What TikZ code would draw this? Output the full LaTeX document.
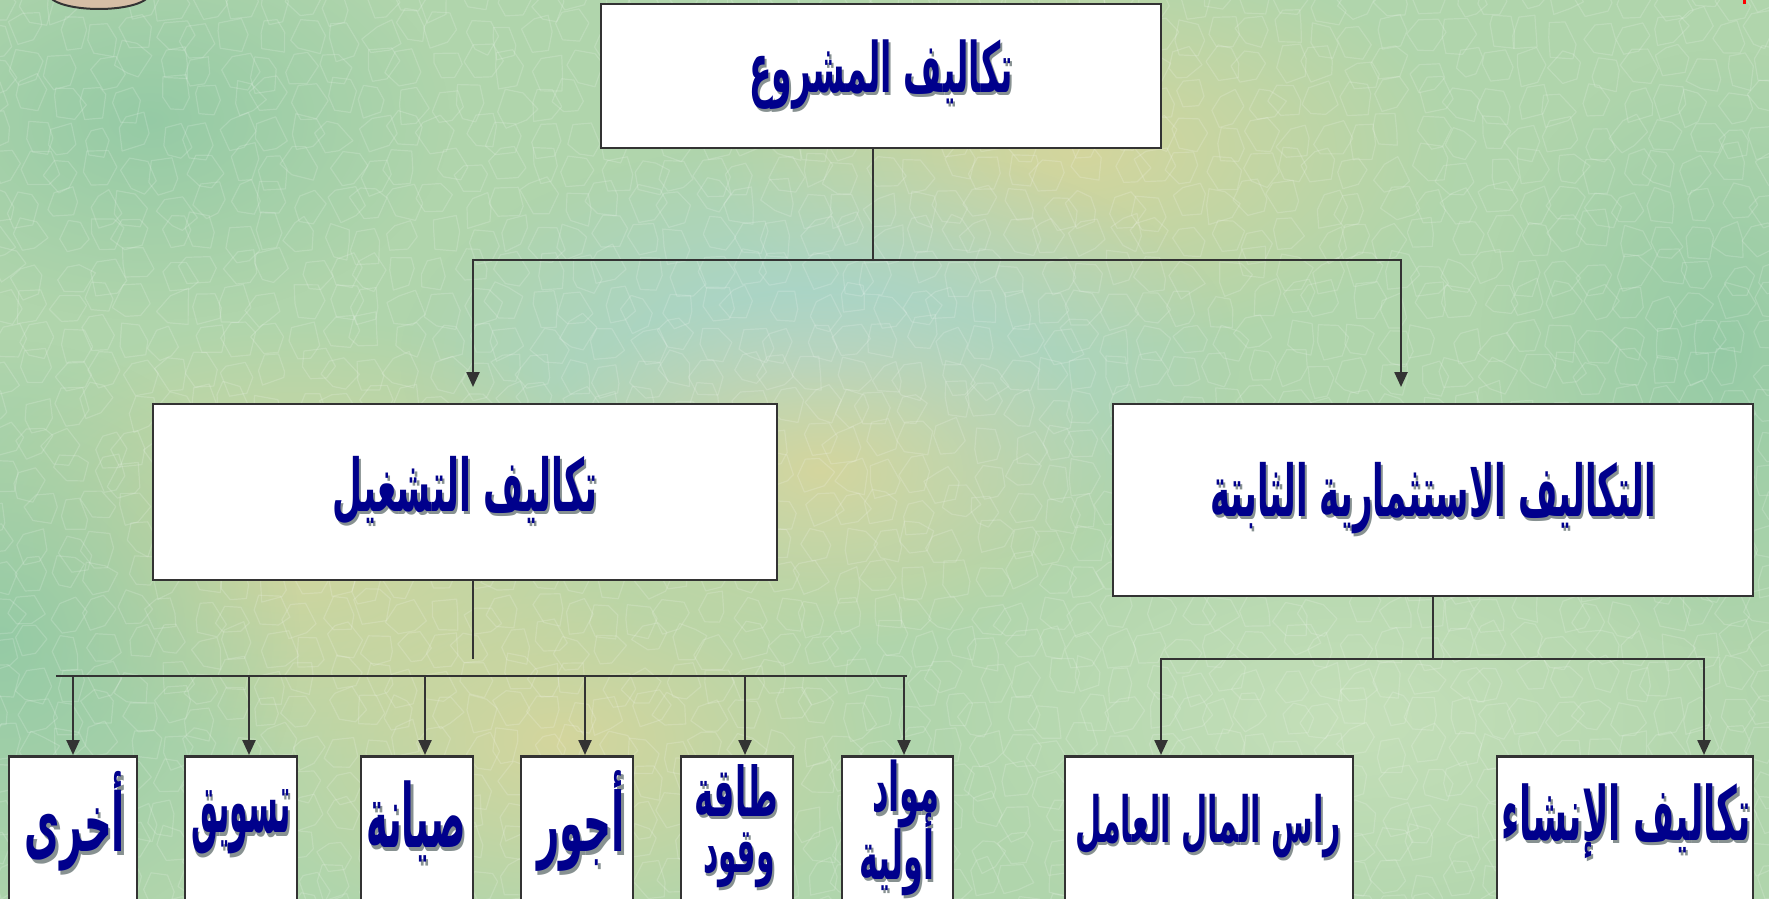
\documentclass[tikz,border=0pt]{standalone}
\usepackage{fontspec}
\usepackage{graphicx}
\usetikzlibrary{arrows.meta,fadings}
\TeXXeTstate=1
\newfontfamily\arabicfont[Script=Arabic]{DejaVu Sans}
\definecolor{navy}{RGB}{0,0,140}
\definecolor{shadowc}{RGB}{135,145,145}
\definecolor{linec}{RGB}{51,51,51}
\definecolor{bgbase}{RGB}{176,213,172}
\definecolor{bgyel}{RGB}{214,214,156}
\definecolor{bgblue}{RGB}{168,212,212}
\definecolor{bggreen}{RGB}{148,202,165}
\definecolor{bglight}{RGB}{198,224,186}
\definecolor{tanc}{RGB}{214,190,166}
\tikzfading[name=blobfade, inner color=transparent!0, outer color=transparent!100]
\newcommand\artxt[1]{{\arabicfont\bfseries\fontsize{40pt}{48pt}\selectfont\beginR #1\endR}}
\newcommand\shtxt[1]{\rlap{\kern2.5pt\raisebox{-1.8pt}{\color{shadowc}\artxt{#1}}}\artxt{#1}}
\newcommand\fitw[3][2.1]{\scalebox{1}[#1]{\resizebox{#2pt}{!}{\shtxt{#3}}}}
\begin{document}
\begin{tikzpicture}[x=1pt,y=-1pt,
  box/.style={draw=linec, line width=2.6pt, fill=white, inner sep=0pt},
  conn/.style={draw=linec, line width=2.4pt},
  bar/.style={conn, line cap=rect},
  arr/.style={conn, -{Triangle[length=15pt,width=13pt]}},
  lbl/.style={text=navy, inner sep=0pt},
  blob/.style={path fading=blobfade, fill opacity=0.95}]
\useasboundingbox (0,0) rectangle (1769,899);
\clip (0,0) rectangle (1769,899);
% background
\fill[bgbase] (0,0) rectangle (1769,899);
\fill[bgyel, blob] (1080,150) ellipse (380 and 200);
\fill[bgblue, blob] (820,360) ellipse (420 and 220);
\fill[bgyel, blob] (300,540) ellipse (360 and 220);
\fill[bgyel, blob] (820,470) ellipse (300 and 180);
\fill[bggreen, blob] (0,640) ellipse (300 and 300);
\fill[bgyel, blob] (560,740) ellipse (340 and 200);
\fill[bglight, blob] (1350,720) ellipse (440 and 240);
\fill[bggreen, blob] (1720,350) ellipse (240 and 300);
\fill[bggreen, blob] (150,120) ellipse (300 and 200);
\pgfmathsetseed{7}
\foreach \i in {0,...,52} {
  \foreach \j in {0,...,27} {
    \pgfmathsetmacro\cx{\i*34+rand*9}
    \pgfmathsetmacro\cy{\j*34+rand*9}
    \draw[white, opacity=0.16, line width=1.2pt, line join=round]
      (\cx+16+rand*5,\cy+rand*6) -- (\cx+9+rand*4,\cy+15+rand*4) --
      (\cx-8+rand*4,\cy+16+rand*4) -- (\cx-16+rand*5,\cy+rand*6) --
      (\cx-9+rand*4,\cy-15+rand*4) -- (\cx+8+rand*4,\cy-16+rand*4) -- cycle;
  }
}
\draw[fill=tanc, draw=linec, line width=2pt] (99,-6) ellipse (50 and 15);
\fill[red] (1743,0) rectangle (1746,4);
% boxes
\node[box, minimum width=560pt, minimum height=144pt, text=navy] (top) at (881,76) {\fitw{264}{تكاليف المشروع}};
\node[box, minimum width=624pt, minimum height=176pt, text=navy] (op) at (465,492) {\fitw{265}{تكاليف التشغيل}};
\node[box, minimum width=640pt, minimum height=192pt, text=navy] (fx) at (1433,500) {\fitw{446}{التكاليف الاستثمارية الثابتة}};
\node[box, anchor=north, minimum width=128pt, minimum height=200pt] (b1) at (73,755) {};
\node[box, anchor=north, minimum width=112pt, minimum height=200pt] (b2) at (241,755) {};
\node[box, anchor=north, minimum width=112pt, minimum height=200pt] (b3) at (417,755) {};
\node[box, anchor=north, minimum width=112pt, minimum height=200pt] (b4) at (577,755) {};
\node[box, anchor=north, minimum width=112pt, minimum height=200pt] (b5) at (737,755) {};
\node[box, anchor=north, minimum width=111pt, minimum height=200pt] (b6) at (897.5,755) {};
\node[box, anchor=north, minimum width=288pt, minimum height=200pt] (r1) at (1209,755) {};
\node[box, anchor=north, minimum width=256pt, minimum height=200pt] (r2) at (1625,755) {};
% labels
\node[lbl] (t1) at (75,823) {\fitw{100}{أخرى}};
\node[lbl] (t2) at (241,824) {\fitw[2.9]{100}{تسويق}};
\node[lbl] (t3) at (416,823) {\fitw[2.4]{100}{صيانة}};
\node[lbl] (t4) at (581,823) {\fitw{88}{أجور}};
\node[lbl] (t5a) at (736,792) {\fitw{84}{طاقة}};
\node[lbl] (t5b) at (739,862) {\fitw{72}{وقود}};
\node[lbl] (t6a) at (906,796) {\fitw{68}{مواد}};
\node[lbl] (t6b) at (897,856) {\fitw{75}{أولية}};
\node[lbl] (t7) at (1208,828) {\fitw{266}{راس المال العامل}};
\node[lbl] (t8) at (1626,823) {\fitw{250}{تكاليف الإنشاء}};
% connectors top
\coordinate (j0) at (873,260);
\coordinate (jl) at (473,260);
\coordinate (jr) at (1401,260);
\coordinate (el) at (473,387);
\coordinate (er) at (1401,387);
\draw[conn] (top.south -| j0) -- (j0);
\draw[bar] (jl) -- (jr);
\draw[arr] (jl) -- (el);
\draw[arr] (jr) -- (er);
% connectors left
\coordinate (ls) at (473,659);
\draw[conn] (op.south -| ls) -- (ls);
\coordinate (lbL) at (57,676);
\coordinate (lbR) at (906,676);
\draw[bar] (lbL) -- (lbR);
\coordinate (a1) at (73,676);
\coordinate (a2) at (249,676);
\coordinate (a3) at (425,676);
\coordinate (a4) at (585,676);
\coordinate (a5) at (745,676);
\coordinate (a6) at (904,676);
\draw[arr] (a1) -- (a1 |- b1.north);
\draw[arr] (a2) -- (a2 |- b2.north);
\draw[arr] (a3) -- (a3 |- b3.north);
\draw[arr] (a4) -- (a4 |- b4.north);
\draw[arr] (a5) -- (a5 |- b5.north);
\draw[arr] (a6) -- (a6 |- b6.north);
% connectors right
\coordinate (rs) at (1433,659);
\draw[conn] (fx.south -| rs) -- (rs);
\coordinate (c1) at (1161,659);
\coordinate (c2) at (1704,659);
\draw[bar] (c1) -- (c2);
\draw[arr] (c1) -- (c1 |- r1.north);
\draw[arr] (c2) -- (c2 |- r2.north);
\end{tikzpicture}
\end{document}
